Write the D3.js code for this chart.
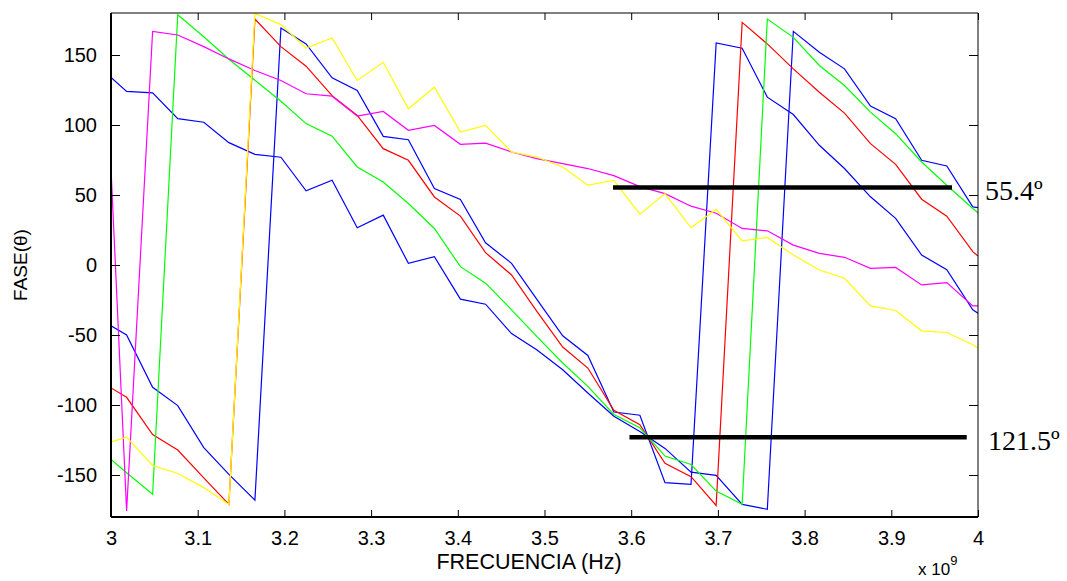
<!DOCTYPE html>
<html><head><meta charset="utf-8">
<script src="https://cdn.jsdelivr.net/npm/d3@7"></script>
<style>
html,body{margin:0;padding:0;background:#fff;}
svg{display:block;}
</style></head>
<body>
<svg id="chart" width="1067" height="581"></svg>
<script>
// ---- data (frequency in GHz, phase in degrees) ----
const freq = [3.000, 3.018, 3.048, 3.077, 3.107, 3.136, 3.166, 3.196, 3.225, 3.255, 3.284, 3.314, 3.343, 3.373, 3.403, 3.432, 3.462, 3.491, 3.521, 3.550, 3.580, 3.610, 3.639, 3.669, 3.698, 3.728, 3.757, 3.787, 3.817, 3.846, 3.876, 3.905, 3.935, 3.964, 3.994, 4.000];
const blue1 = [134, 124, 123, 104.5, 102, 87.4, 79, 77, 53, 60.5, 26.6, 35.6, 1.2, 6, -24.4, -28, -49, -60.5, -74.8, -91.4, -108, -119, -131, -148, -150.3, -171, -174.5, 166.9, 151.9, 140.1, 113.5, 104.5, 74.8, 70.7, 41.5, 41];
const blue2 = [-43.4, -50, -87.4, -100.4, -130.4, -149.6, -167.9, 169.3, 157.9, 133.7, 124.6, 91.9, 89.5, 54.6, 46.8, 15.9, 1.2, -24.4, -50.6, -64.6, -105, -107.3, -155.5, -156.7, 158.6, 154.8, 119.9, 107.5, 85.5, 68.9, 48.7, 33.3, 7.1, -3.4, -32, -34.4];
const red = [-87.8, -94.5, -121.1, -132.2, -152, -171, 175.7, 156, 142, 121, 106.8, 83.1, 74.8, 48.6, 34.9, 8.8, -7.1, -33, -58.6, -73.6, -103.8, -114, -141.7, -151.2, -171.7, 173.3, 157.9, 140.1, 123.4, 108.5, 86.7, 71.9, 47, 34.9, 9.5, 6.4];
const green = [-138.9, -148.4, -163.8, 178.8, 163, 147, 132, 117, 101, 92, 70, 59.3, 43.9, 26.1, -1.2, -13, -32, -51, -70, -86.7, -106.8, -116.3, -136.5, -142.5, -161.5, -171, 175.7, 162.6, 142.5, 128.2, 109.2, 93.8, 73.6, 57, 40.4, 37.3];
const magenta = [68.9, -175.7, 166.9, 164.3, 156, 147.2, 138.9, 131.8, 122.3, 120.6, 106.3, 109.7, 96.2, 99.7, 86.2, 87.1, 80.7, 76, 72.4, 68.9, 63.8, 56, 51, 42, 37, 26.1, 24.4, 14.2, 8.3, 5.5, -2.4, -1.7, -14.2, -12.6, -29.2, -29.2];
const yellow = [-126.3, -123, -143.2, -148.9, -159, -171, 179.7, 171.7, 155, 162.2, 131.8, 144.8, 111.6, 127, 95, 99.7, 80.7, 77.1, 70, 57, 60.5, 36.3, 51, 26.6, 39.7, 17.3, 19.7, 7.1, -3.6, -9.5, -29.2, -32.5, -47, -48.2, -57, -59.3];

const xTicks = [3, 3.1, 3.2, 3.3, 3.4, 3.5, 3.6, 3.7, 3.8, 3.9, 4];
const yTicks = [-150, -100, -50, 0, 50, 100, 150];

const markLevels = [55.4, -123];
const markStart = [3.579, 3.598];
const markEnd = [3.970, 3.987];
const markLabels = ["55.4º", "121.5º"];

const seriesList = [
  {name: "blue1", values: blue1, color: "#0000ff"},
  {name: "blue2", values: blue2, color: "#0000ff"},
  {name: "red", values: red, color: "#ff0000"},
  {name: "green", values: green, color: "#00ff00"},
  {name: "magenta", values: magenta, color: "#ff00ff"},
  {name: "yellow", values: yellow, color: "#ffff00"}
];

// ---- layout ----
const L = 111, R = 978, T = 13, B = 517;
const x = d3.scaleLinear().domain([3, 4]).range([L, R]);
const y = d3.scaleLinear().domain([-180, 180]).range([B, T]);

const svg = d3.select("#chart");
const font = "'Liberation Sans', Arial, Helvetica, sans-serif";

svg.append("defs").append("clipPath").attr("id", "clip")
  .append("rect").attr("x", L).attr("y", T).attr("width", R - L).attr("height", B - T);

const g = svg.append("g").attr("clip-path", "url(#clip)");
const line = d3.line().x((d, i) => x(freq[i])).y(d => y(d));

seriesList.forEach(s => {
  g.append("path").datum(s.values)
    .attr("d", line)
    .attr("fill", "none")
    .attr("stroke", s.color)
    .attr("stroke-width", 1.2)
    .attr("stroke-linejoin", "miter");
});

// black reference lines
markLevels.forEach((lv, i) => {
  svg.append("line")
    .attr("x1", x(markStart[i])).attr("x2", x(markEnd[i]))
    .attr("y1", y(lv)).attr("y2", y(lv))
    .attr("stroke", "#000").attr("stroke-width", 4.5);
});

// axes (box with inward ticks)
const axB = d3.axisBottom(x).tickValues(xTicks).tickSize(-7).tickPadding(14).tickFormat(d => String(d));
const axT = d3.axisTop(x).tickValues(xTicks).tickSize(-7).tickFormat("");
const axLft = d3.axisLeft(y).tickValues(yTicks).tickSize(-9).tickPadding(14).tickFormat(d => String(d));
const axRt = d3.axisRight(y).tickValues(yTicks).tickSize(-9).tickFormat("");

function style(sel, w) {
  sel.select(".domain").attr("stroke", "#000").attr("stroke-width", w);
  sel.selectAll(".tick line").attr("stroke", "#000").attr("stroke-width", 1);
  sel.selectAll(".tick text").attr("fill", "#000").style("font-family", font).style("font-size", "20px");
}
const gb = svg.append("g").attr("transform", `translate(0,${B})`).call(axB);
style(gb, 2);
gb.select(".domain").attr("d", `M${L},0H${R}`);
const gt = svg.append("g").attr("transform", `translate(0,${T})`).call(axT);
style(gt, 1);
gt.select(".domain").attr("d", `M${L},0H${R}`);
const gl = svg.append("g").attr("transform", `translate(${L},0)`).call(axLft);
style(gl, 2);
gl.select(".domain").attr("d", `M0,${T}V${B}`);
const gr = svg.append("g").attr("transform", `translate(${R},0)`).call(axRt);
style(gr, 1);
gr.select(".domain").attr("d", `M0,${T}V${B}`);

// axis titles
svg.append("text").attr("x", 529).attr("y", 569).attr("text-anchor", "middle")
  .style("font-family", font).style("font-size", "21.5px").text("FRECUENCIA (Hz)");
svg.append("text").attr("transform", "translate(27,265) rotate(-90)").attr("text-anchor", "middle")
  .style("font-family", font).style("font-size", "19px").text("FASE(θ)");
const ex = svg.append("text").attr("x", 918).attr("y", 575)
  .style("font-family", font).style("font-size", "17px");
ex.append("tspan").text("x 10");
ex.append("tspan").attr("dy", -10).style("font-size", "13px").text("9");

// annotations
const ann = [[985, 194], [988, 444]];
markLabels.forEach((t, i) => {
  svg.append("text").attr("x", ann[i][0]).attr("y", ann[i][1])
    .attr("dominant-baseline", "middle")
    .style("font-family", "'Liberation Serif', 'Times New Roman', serif")
    .style("font-size", "28px").text(t);
});
</script>
</body></html>
